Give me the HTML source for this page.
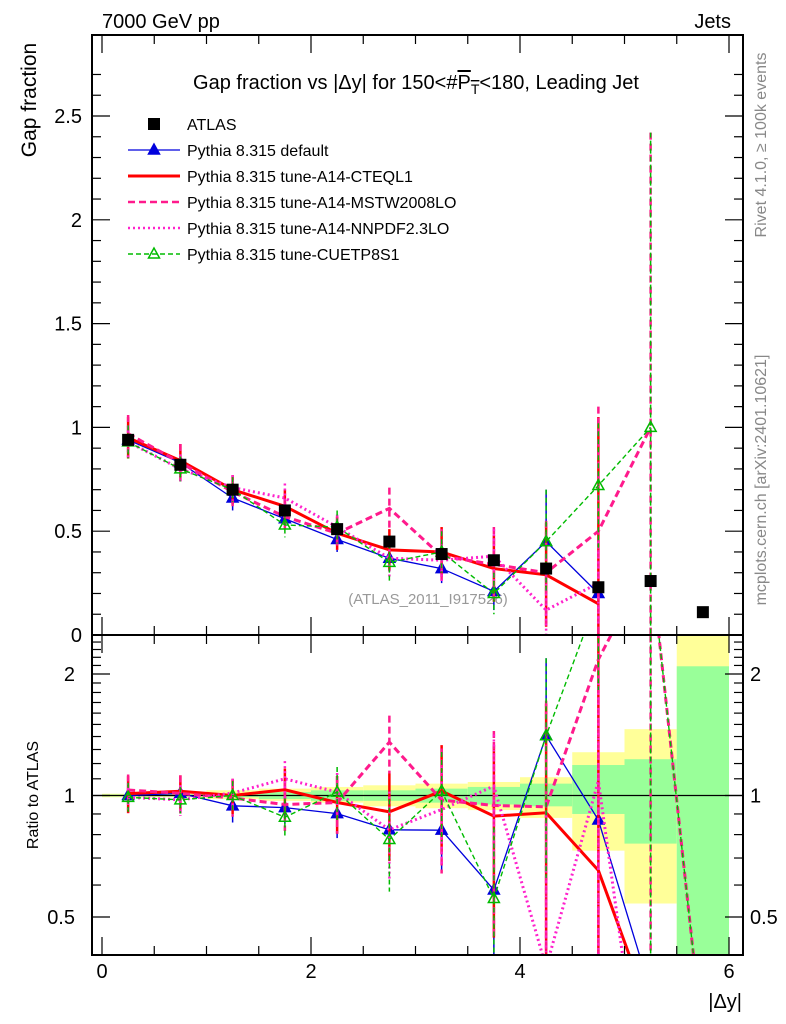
<!DOCTYPE html>
<html><head><meta charset="utf-8"><style>
html,body{margin:0;background:#fff;overflow:hidden;width:786px;height:1024px;}
svg{display:block;font-family:"Liberation Sans","DejaVu Sans",sans-serif;}
</style></head><body>
<svg id="c" width="786" height="1024" viewBox="0 0 786 1024" xmlns="http://www.w3.org/2000/svg">
<defs>
<clipPath id="cm"><rect x="92" y="35" width="651" height="600"/></clipPath>
<clipPath id="cr"><rect x="92" y="635" width="651" height="320"/></clipPath>
</defs>
<text x="102" y="28" font-size="20">7000 GeV pp</text>
<text x="731" y="28" font-size="20" text-anchor="end">Jets</text>
<text x="416" y="89" font-size="20" text-anchor="middle">Gap fraction vs |Δy| for 150&lt;#<tspan text-decoration="overline">P<tspan font-size="14" dy="5">T</tspan></tspan><tspan dy="-5">&lt;180, Leading Jet</tspan></text>
<text transform="translate(36,100) rotate(-90)" font-size="21" text-anchor="middle">Gap fraction</text>
<text transform="translate(38,795) rotate(-90)" font-size="16" text-anchor="middle">Ratio to ATLAS</text>
<text transform="translate(766,145) rotate(-90)" font-size="16" fill="#888" text-anchor="middle">Rivet 4.1.0, ≥ 100k events</text>
<text transform="translate(766,480) rotate(-90)" font-size="16" fill="#888" text-anchor="middle">mcplots.cern.ch [arXiv:2401.10621]</text>
<text x="428" y="604" font-size="15" fill="#999" text-anchor="middle">(ATLAS_2011_I917526)</text>
<text x="742" y="1008" font-size="20" text-anchor="end">|Δy|</text>
<g id="bands" clip-path="url(#cr)"></g>
<g id="mainmarks" clip-path="url(#cm)"></g>
<g id="ratiomarks" clip-path="url(#cr)"></g>
<g id="axes"></g>
<g id="legend"></g>
</svg>
<script>
const edges=[0,0.5,1,1.5,2,2.5,3,3.5,4,4.5,5,5.5,6];
const centers=[0.25,0.75,1.25,1.75,2.25,2.75,3.25,3.75,4.25,4.75,5.25,5.75];
const atlas=[0.94,0.82,0.70,0.60,0.51,0.45,0.39,0.36,0.32,0.23,0.26,0.11];
const yellowHi=[1.01,1.01,1.03,1.04,1.05,1.06,1.07,1.08,1.11,1.28,1.46,3.0];
const yellowLo=[0.99,0.99,0.98,0.97,0.96,0.94,0.93,0.92,0.88,0.73,0.54,0.1];
const greenHi=[1.005,1.005,1.01,1.02,1.03,1.03,1.04,1.05,1.07,1.19,1.23,2.09];
const greenLo=[0.995,0.995,0.99,0.98,0.97,0.97,0.96,0.95,0.94,0.90,0.76,0.1];
const sDefault=[0.94,0.83,0.66,0.56,0.46,0.37,0.32,0.21,0.45,0.20,0.085];
const sCTEQ=[0.95,0.84,0.70,0.62,0.49,0.41,0.40,0.32,0.29,0.15,0.075];
const sMSTW=[0.97,0.83,0.69,0.57,0.49,0.61,0.38,0.34,0.30,0.50,1.00,0.027];
const sNNPDF=[0.93,0.80,0.71,0.66,0.52,0.37,0.36,0.38,0.12,0.25,0.033];
const sCUETP=[0.93,0.80,0.70,0.53,0.52,0.35,0.40,0.20,0.45,0.72,1.00,0.027];
const eDefault=[0.06,0.05,0.06,0.05,0.06,0.06,0.07,0.09,0.25,0.22,0];
const eCTEQ=[0.1,0.08,0.07,0.08,0.08,0.1,0.12,0.16,0.25,0.9,0];
const eMSTW=[0.09,0.09,0.07,0.08,0.08,0.1,0.13,0.18,0.25,0.6,1.42,0];
const eNNPDF=[0.08,0.07,0.06,0.07,0.06,0.09,0.1,0.13,0.2,0.2,0];
const eCUETP=[0.08,0.06,0.06,0.06,0.08,0.09,0.1,0.1,0.25,0.3,1.42,0];
const mainTicks=[0,0.5,1,1.5,2,2.5];
const mainTickLabels=["0","0.5","1","1.5","2","2.5"];
const ratioTicks=[0.5,1,2];
const ratioTickLabels=["0.5","1","2"];
const xTicks=[0,2,4,6];
const xTickLabels=["0","2","4","6"];

const NS="http://www.w3.org/2000/svg";
const X=v=>102+v*104.5;
const YM=v=>635-v*207.6;
const YR=r=>795.5-Math.log2(Math.max(r,1e-3))*121.5;
const MAINMIN=0.1;
function el(tag,attrs,parent){const e=document.createElementNS(NS,tag);for(const k in attrs)e.setAttribute(k,attrs[k]);parent.appendChild(e);return e;}
const bands=document.getElementById('bands'),mm=document.getElementById('mainmarks'),rm=document.getElementById('ratiomarks'),ax=document.getElementById('axes'),lg=document.getElementById('legend');

for(let i=0;i<12;i++){
  const y=el('rect',{x:X(edges[i]),y:YR(yellowHi[i]),width:X(edges[i+1])-X(edges[i]),height:YR(yellowLo[i])-YR(yellowHi[i]),fill:'#ffff99'},bands);
  
  
  const g=el('rect',{x:X(edges[i]),y:YR(greenHi[i]),width:X(edges[i+1])-X(edges[i]),height:YR(greenLo[i])-YR(greenHi[i]),fill:'#99ff99'},bands);
  
  
}
const one=el('line',{x1:92,x2:743,y1:YR(1),y2:YR(1),stroke:'#000','stroke-width':1.2},rm);



const series=[
 {name:'default',vals:sDefault,err:eDefault,color:'#0000dd',w:1.3,dash:'',mk:'tri'},
 {name:'cteql1',vals:sCTEQ,err:eCTEQ,color:'#ff0000',w:3,dash:'',mk:''},
 {name:'mstw2008lo',vals:sMSTW,err:eMSTW,color:'#ff1a8c',w:3,dash:'7,4',mk:''},
 {name:'nnpdf23lo',vals:sNNPDF,err:eNNPDF,color:'#ff22cc',w:3,dash:'2,3',mk:''},
 {name:'cuetp8s1',vals:sCUETP,err:eCUETP,color:'#00bb00',w:1.4,dash:'5,3',mk:'otri'}
];
function tri(g,x,y,c,open){const t=el('polygon',{points:`${x},${y-6} ${x-5.5},${y+4} ${x+5.5},${y+4}`,fill:open?'none':c,stroke:c,'stroke-width':1.5},g);return t;}
series.forEach(s=>{
  const gm=el('g',{},mm);
  const gr=el('g',{},rm);
  const pm=[],pr=[];
  s.vals.forEach((v,i)=>{
    const x=X(centers[i]);
    if(v>=MAINMIN)pm.push(x+','+YM(v));
    const r=v/atlas[i];pr.push(x+','+YR(r));
    const e=s.err[i]||0;
    if(v>=MAINMIN&&e>0){
      const b=el('line',{x1:x,x2:x,y1:YM(v+e),y2:YM(Math.max(v-e,0)),stroke:s.color,'stroke-width':s.w>2?2.5:1.5,'stroke-dasharray':s.dash},gm);
      
      const br=el('line',{x1:x,x2:x,y1:YR((v+e)/atlas[i]),y2:YR(Math.max(v-e,0.001)/atlas[i]),stroke:s.color,'stroke-width':s.w>2?2.5:1.5,'stroke-dasharray':s.dash},gr);
      
    }
  });
  const lm=el('polyline',{points:pm.join(' '),fill:'none',stroke:s.color,'stroke-width':s.w,'stroke-dasharray':s.dash},gm);
  
  const lr=el('polyline',{points:pr.join(' '),fill:'none',stroke:s.color,'stroke-width':s.w,'stroke-dasharray':s.dash},gr);
  
  if(s.mk){s.vals.forEach((v,i)=>{if(v<MAINMIN)return;
    const m=tri(gm,X(centers[i]),YM(v),s.color,s.mk==='otri');
    const m2=tri(gr,X(centers[i]),YR(v/atlas[i]),s.color,s.mk==='otri');
  });}
});
atlas.forEach((v,i)=>{
  const r=el('rect',{x:X(centers[i])-6,y:YM(v)-6,width:12,height:12,fill:'#000'},mm);
  
  
});

const fr1=el('rect',{x:92,y:35,width:651,height:600,fill:'none',stroke:'#000','stroke-width':2},ax);

const fr2=el('rect',{x:92,y:635,width:651,height:320,fill:'none',stroke:'#000','stroke-width':2},ax);

for(let v=0;v<=2.8;v+=0.1){const y=YM(v);const major=Math.abs(v*2-Math.round(v*2))<1e-6;const L=major?18:9;
  el('line',{x1:92,x2:92+L,y1:y,y2:y,stroke:'#000','stroke-width':1.2},ax);el('line',{x1:743-L,x2:743,y1:y,y2:y,stroke:'#000','stroke-width':1.2},ax);}
mainTicks.forEach((v,i)=>{const t=el('text',{x:82,y:YM(v)+7,'font-size':20,'text-anchor':'end'},ax);t.textContent=mainTickLabels[i];
  });
for(let v=0.4;v<=2.5;v+=0.1){const y=YR(v);if(y<635||y>955)continue;const major=ratioTicks.some(t=>Math.abs(t-v)<1e-6);const L=major?18:9;
  el('line',{x1:92,x2:92+L,y1:y,y2:y,stroke:'#000','stroke-width':1.2},ax);el('line',{x1:743-L,x2:743,y1:y,y2:y,stroke:'#000','stroke-width':1.2},ax);}
ratioTicks.forEach((v,i)=>{
  const t=el('text',{x:75,y:YR(v)+7,'font-size':20,'text-anchor':'end'},ax);t.textContent=ratioTickLabels[i];
  
  const t2=el('text',{x:750,y:YR(v)+7,'font-size':20},ax);t2.textContent=ratioTickLabels[i];
  });
for(let v=0;v<=6.01;v+=0.5){const x=X(v);const major=Math.abs(v-Math.round(v/2)*2)<1e-6;const L=major?18:9;
  el('line',{x1:x,x2:x,y1:635-L,y2:635,stroke:'#000','stroke-width':1.2},ax);el('line',{x1:x,x2:x,y1:35,y2:35+L,stroke:'#000','stroke-width':1.2},ax);
  el('line',{x1:x,x2:x,y1:955-L,y2:955,stroke:'#000','stroke-width':1.2},ax);el('line',{x1:x,x2:x,y1:635,y2:635+L,stroke:'#000','stroke-width':1.2},ax);}
xTicks.forEach((v,i)=>{const t=el('text',{x:X(v),y:978,'font-size':20,'text-anchor':'middle'},ax);t.textContent=xTickLabels[i];
  });

const leg=[['ATLAS','#000','','sq',0],['Pythia 8.315 default','#0000dd','','tri',1.3],['Pythia 8.315 tune-A14-CTEQL1','#ff0000','','',3],
 ['Pythia 8.315 tune-A14-MSTW2008LO','#ff1a8c','7,4','',2.5],['Pythia 8.315 tune-A14-NNPDF2.3LO','#ff22cc','2,3','',2.5],['Pythia 8.315 tune-CUETP8S1','#00bb00','5,3','otri',1.4]];
leg.forEach((l,i)=>{const y=124+i*26;const g=el('g',{},lg);
  
  if(l[3]==='sq')el('rect',{x:148,y:y-6,width:12,height:12,fill:'#000'},g);
  else el('line',{x1:128,x2:180,y1:y,y2:y,stroke:l[1],'stroke-width':l[4],'stroke-dasharray':l[2]},g);
  if(l[3]==='tri'||l[3]==='otri')tri(g,154,y,l[1],l[3]==='otri');
  const t=el('text',{x:187,y:y+6,'font-size':16},g);t.textContent=l[0];});
</script>
</body></html>
